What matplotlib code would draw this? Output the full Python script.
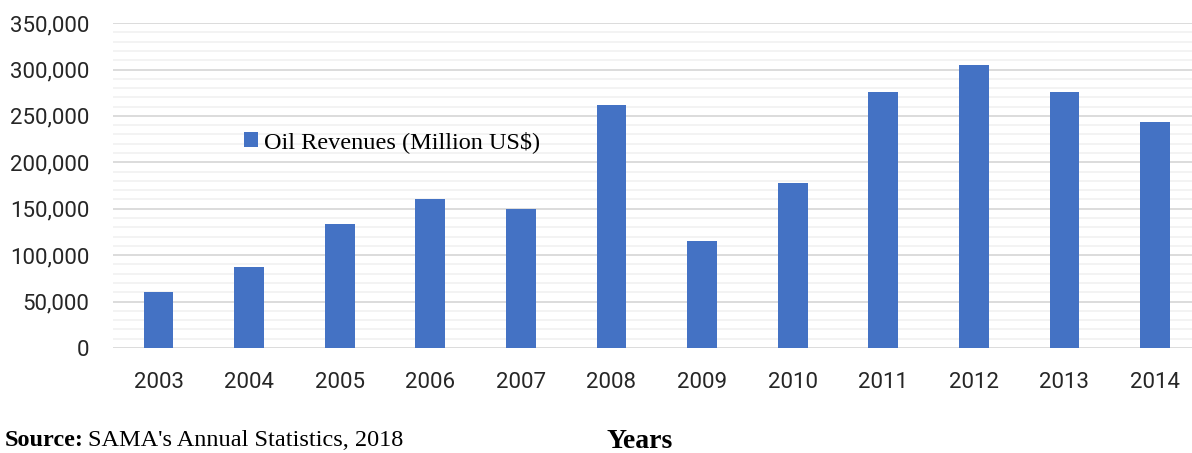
import numpy as np
import matplotlib.pyplot as plt
from matplotlib.ticker import FuncFormatter, MultipleLocator

years = ['2003', '2004', '2005', '2006', '2007', '2008',
         '2009', '2010', '2011', '2012', '2013', '2014']
oil_revenues = [60600, 87200, 133500, 160400, 149700, 261700,
                115200, 177700, 275300, 305100, 275300, 243400]

BAR_COLOR = '#4472C4'

fig = plt.figure(figsize=(11.92, 4.53), dpi=100)
ax = fig.add_axes([0.095, 0.232, 0.912, 0.717])

x = np.arange(len(years))
ax.bar(x, oil_revenues, width=0.33, color=BAR_COLOR,
       label='Oil Revenues (Million US$)', zorder=3)

ax.set_xlim(-0.5, len(years) - 0.5)
ax.set_ylim(0, 350000)
ax.yaxis.set_major_locator(MultipleLocator(50000))
ax.yaxis.set_minor_locator(MultipleLocator(10000))
ax.yaxis.set_major_formatter(FuncFormatter(lambda v, p: f'{int(v):,}'))
ax.set_xticks(x)
ax.set_xticklabels(years)

ax.grid(axis='y', which='major', color='#d9d9d9', linewidth=1.3, zorder=0)
ax.grid(axis='y', which='minor', color='#f2f2f2', linewidth=1.3, zorder=0)
for s in ax.spines.values():
    s.set_visible(False)
ax.tick_params(axis='both', which='both', length=0)
ax.tick_params(axis='y', pad=17, labelsize=16, labelcolor='#262626')
ax.tick_params(axis='x', pad=17, labelsize=16, labelcolor='#262626')
for lbl in ax.get_xticklabels() + ax.get_yticklabels():
    lbl.set_fontfamily('Roboto')

leg = ax.legend(loc='upper left', bbox_to_anchor=(0.1, 0.735), frameon=False,
                handlelength=0.6, handleheight=0.6, handletextpad=0.25,
                prop={'family': 'Liberation Serif', 'size': 17.5})

fig.text(0.004, 0.016, 'Source:', fontfamily='Liberation Serif',
         fontweight='bold', fontsize=17.5)
fig.text(0.074, 0.016, "SAMA's Annual Statistics, 2018",
         fontfamily='Liberation Serif', fontsize=17.5)
fig.text(0.537, 0.010, 'Years', fontfamily='Liberation Serif',
         fontweight='bold', fontsize=20, ha='center')

fig.savefig('out.png', dpi=100)
